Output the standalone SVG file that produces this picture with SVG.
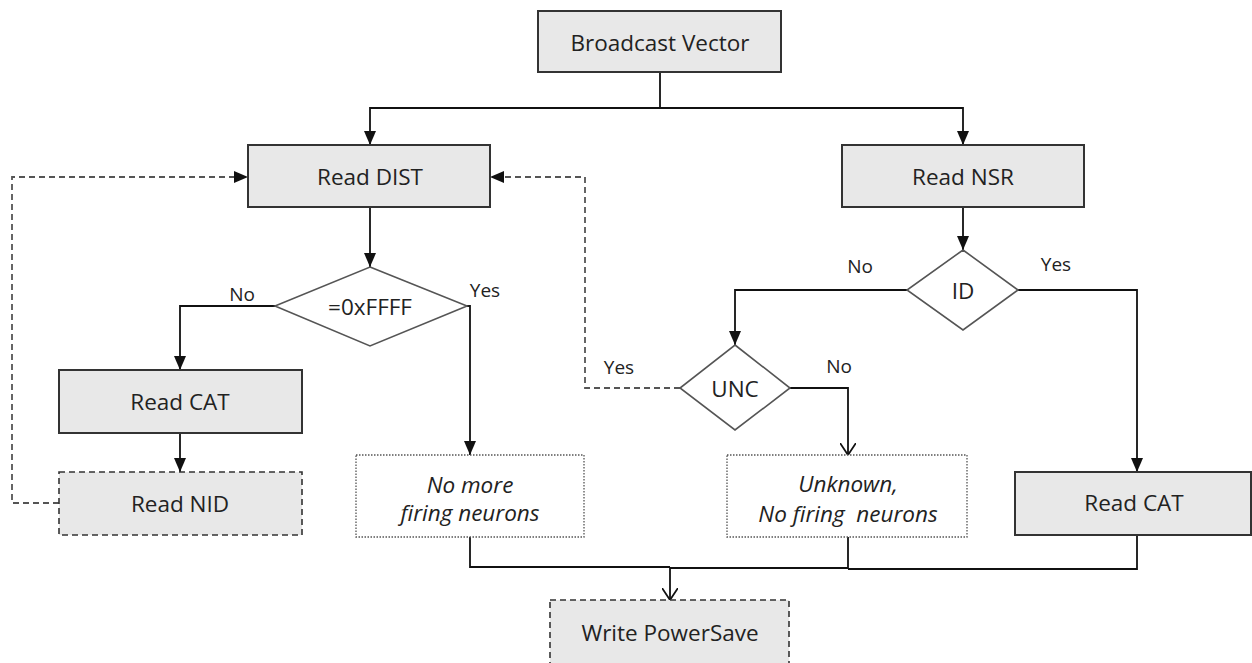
<svg xmlns="http://www.w3.org/2000/svg" width="1252" height="663" viewBox="0 0 1252 663">
<style>
.box{fill:#e8e8e8;stroke:#333;stroke-width:2}
.dbox{fill:#e8e8e8;stroke:#333;stroke-width:1.6;stroke-dasharray:6,4}
.obox{fill:#fff;stroke:#555;stroke-width:1.3;stroke-dasharray:1.5,1.5}
.dia{fill:#fff;stroke:#555;stroke-width:1.6}
.t{font-family:"Open Sans","Noto Sans",sans-serif;font-size:22.5px;fill:#222;text-anchor:middle;dominant-baseline:central}
.ti{font-style:italic}
.lb{font-family:"Open Sans","Noto Sans",sans-serif;font-size:19px;fill:#222;text-anchor:middle;dominant-baseline:central}
.e{fill:none;stroke:#111;stroke-width:1.8}
.ed{fill:none;stroke:#555;stroke-width:1.8;stroke-dasharray:6,4}
</style>
<defs>
<marker id="fa" viewBox="0 0 14 12" refX="14" refY="6" markerWidth="14" markerHeight="12" markerUnits="userSpaceOnUse" orient="auto"><path d="M0,0 L14,6 L0,12 z" fill="#111"/></marker>
<marker id="oa" viewBox="0 0 13 16" refX="12" refY="8" markerWidth="13" markerHeight="16" markerUnits="userSpaceOnUse" orient="auto"><path d="M0,0 L12,8 L0,16" fill="none" stroke="#111" stroke-width="1.8"/></marker>
</defs>
<g id="connectors">
<path class="e" d="M660,72 V108 H370 V145" marker-end="url(#fa)"/>
<path class="e" d="M660,108 H963 V145" marker-end="url(#fa)"/>
<path class="e" d="M370,207 V267" marker-end="url(#fa)"/>
<path class="e" d="M275,306 H180 V370" marker-end="url(#fa)"/>
<path class="e" d="M467,306 H470 V455" marker-end="url(#fa)"/>
<path class="e" d="M180,433 V472" marker-end="url(#fa)"/>
<path class="ed" d="M59,503 H12 V177 H248" marker-end="url(#fa)"/>
<path class="e" d="M963,207 V250" marker-end="url(#fa)"/>
<path class="e" d="M907,290 H735 V345" marker-end="url(#fa)"/>
<path class="e" d="M1018,290 H1137 V472" marker-end="url(#fa)"/>
<path class="ed" d="M680,388 H585 V177 H490" marker-end="url(#fa)"/>
<path class="e" d="M790,388 H848 V455" marker-end="url(#oa)"/>
<path class="e" d="M470,537 V567 H670"/>
<path class="e" d="M848,537 V568 H670"/>
<path class="e" d="M1137,535 V569 H848"/>
<path class="e" d="M670,567 V600" marker-end="url(#oa)"/>
<text class="lb" x="242" y="294">No</text>
<text class="lb" x="485" y="290">Yes</text>
<text class="lb" x="860" y="266">No</text>
<text class="lb" x="1056" y="264">Yes</text>
<text class="lb" x="619" y="367">Yes</text>
<text class="lb" x="839" y="366">No</text>
</g>
<g id="broadcast"><rect class="box" x="538" y="11" width="243" height="61"/><text class="t" x="660" y="42">Broadcast Vector</text></g>
<g id="readDist"><rect class="box" x="248" y="145" width="242" height="62"/><text class="t" x="370" y="176">Read DIST</text></g>
<g id="readNsr"><rect class="box" x="842" y="145" width="242" height="62"/><text class="t" x="963" y="176">Read NSR</text></g>
<g id="ffff"><polygon class="dia" points="370,267 467,306 370,346 275,306"/><text class="t" x="370" y="306">=0xFFFF</text></g>
<g id="readCatL"><rect class="box" x="59" y="370" width="243" height="63"/><text class="t" x="180" y="401">Read CAT</text></g>
<g id="readNid"><rect class="dbox" x="59" y="472" width="243" height="63"/><text class="t" x="180" y="503">Read NID</text></g>
<g id="noMore"><rect class="obox" x="356" y="455" width="228" height="82"/><text class="t ti" x="470" y="484">No more</text><text class="t ti" x="470" y="512">firing neurons</text></g>
<g id="id"><polygon class="dia" points="963,250 1018,290 963,330 907,290"/><text class="t" x="963" y="290">ID</text></g>
<g id="unc"><polygon class="dia" points="735,345 790,388 735,430 680,388"/><text class="t" x="735" y="388">UNC</text></g>
<g id="unknown"><rect class="obox" x="727" y="455" width="240" height="82"/><text class="t ti" x="848" y="483">Unknown,</text><text class="t ti" x="848" y="513" xml:space="preserve">No firing  neurons</text></g>
<g id="readCatR"><rect class="box" x="1015" y="472" width="236" height="63"/><text class="t" x="1134" y="502">Read CAT</text></g>
<g id="writePs"><rect class="dbox" x="550" y="600" width="239" height="70"/><text class="t" x="670" y="632">Write PowerSave</text></g>
</svg>
